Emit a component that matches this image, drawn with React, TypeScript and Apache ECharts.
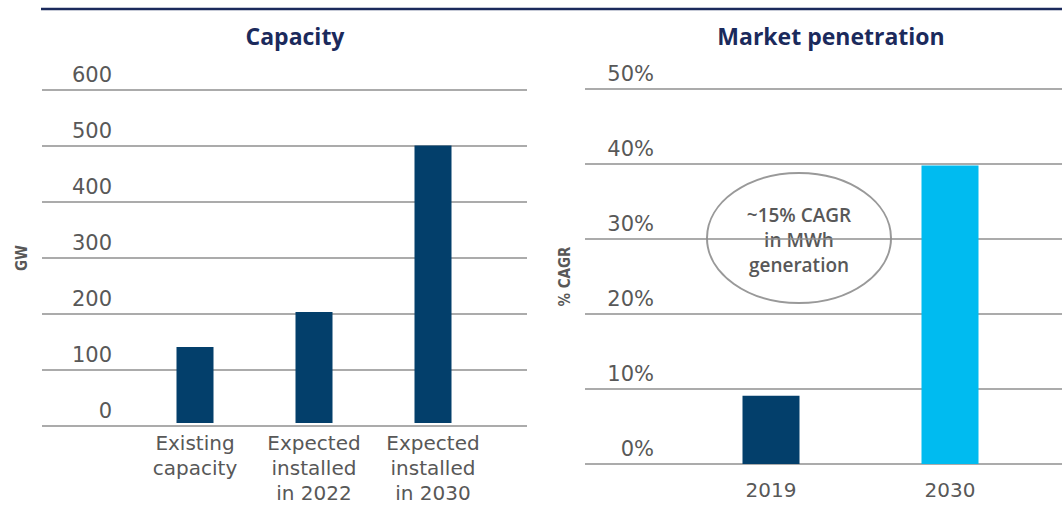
import React, { useEffect, useRef } from "react";
import * as echarts from "echarts";

const capacityCategories = ["Existing\ncapacity", "Expected\ninstalled\nin 2022", "Expected\ninstalled\nin 2030"];
const capacityValues = [137, 200, 500];
const penetrationCategories = ["2019", "2030"];
const penetrationValues = [9.1, 39.8];
const penetrationColors = ["#033f6b", "#00bbf0"];

const NAVY = "#033f6b";
const TITLE = "#1b2a5c";
const GRAY = "#585858";
const GRID_LINE = "#8f8f8f";
const FONT = "'Open Sans', 'DejaVu Sans', sans-serif";
const LABEL_FONT = "'DejaVu Sans', 'Open Sans', sans-serif";
const NARROW = "'DejaVu Sans Condensed', 'Liberation Sans Narrow', 'Roboto Condensed', sans-serif";

export default function App() {
  const ref = useRef<HTMLDivElement>(null);
  useEffect(() => {
    if (!ref.current) return;
    const chart = echarts.init(ref.current, null, { renderer: "svg" });
    const yLabel = (margin: number, fmt: (v: number) => string) => ({
      inside: true,
      margin,
      align: "right",
      verticalAlign: "bottom",
      padding: [0, 0, 5, 0],
      color: GRAY,
      fontSize: 21,
      fontFamily: LABEL_FONT,
      formatter: fmt,
    });
    const axisName = { color: GRAY, fontSize: 15, fontWeight: "bold", fontFamily: NARROW };
    chart.setOption({
      animation: false,
      title: [
        { text: "Capacity", left: 290, top: 19, textAlign: "center", textStyle: { fontSize: 23, fontWeight: "bold", color: TITLE, fontFamily: FONT } },
        { text: "Market penetration", left: 826, top: 19, textAlign: "center", textStyle: { fontSize: 23, fontWeight: "bold", color: TITLE, fontFamily: FONT } },
      ],
      grid: [
        { left: 42, width: 485, top: 90, height: 336 },
        { left: 135.5, width: 357, top: 90, height: 336 },
        { left: 585, right: 0, top: 89, height: 375 },
        { left: 681.5, width: 358, top: 89, height: 375 },
      ],
      xAxis: [
        { gridIndex: 0, type: "category", data: [""], show: false },
        {
          gridIndex: 1,
          type: "category",
          data: capacityCategories,
          axisLine: { show: false },
          axisTick: { show: false },
          axisLabel: { interval: 0, hideOverlap: false, color: GRAY, fontSize: 20, fontFamily: LABEL_FONT, lineHeight: 25, margin: 7 },
        },
        { gridIndex: 2, type: "category", data: [""], show: false },
        {
          gridIndex: 3,
          type: "category",
          data: penetrationCategories,
          axisLine: { show: false },
          axisTick: { show: false },
          axisLabel: { interval: 0, color: GRAY, fontSize: 20, fontFamily: LABEL_FONT, margin: 16 },
        },
      ],
      yAxis: [
        {
          gridIndex: 0,
          type: "value",
          min: 0,
          max: 600,
          interval: 100,
          name: "GW",
          nameLocation: "middle",
          nameRotate: 90,
          nameGap: 13,
          nameTextStyle: axisName,
          axisLine: { show: false },
          axisTick: { show: false },
          axisLabel: yLabel(70, (v: number) => String(v)),
          splitLine: { lineStyle: { color: GRID_LINE, width: 1.5 } },
        },
        { gridIndex: 1, type: "value", min: 0, max: 600, interval: 100, show: false, splitLine: { show: false } },
        {
          gridIndex: 2,
          type: "value",
          min: 0,
          max: 50,
          interval: 10,
          name: "% CAGR",
          nameLocation: "middle",
          nameRotate: 90,
          nameGap: 13,
          nameTextStyle: axisName,
          axisLine: { show: false },
          axisTick: { show: false },
          axisLabel: yLabel(69, (v: number) => v + "%"),
          splitLine: { lineStyle: { color: GRID_LINE, width: 1.5 } },
        },
        { gridIndex: 3, type: "value", min: 0, max: 50, interval: 10, show: false, splitLine: { show: false } },
      ],
      series: [
        {
          type: "bar",
          xAxisIndex: 1,
          yAxisIndex: 1,
          data: capacityValues,
          barWidth: 37,
          itemStyle: { color: NAVY },
        },
        {
          type: "bar",
          xAxisIndex: 3,
          yAxisIndex: 3,
          data: penetrationValues.map((v, i) => ({ value: v, itemStyle: { color: penetrationColors[i] } })),
          barWidth: 57,
        },
      ],
      graphic: [
        { type: "line", shape: { x1: 41, y1: 9, x2: 1062, y2: 9 }, style: { stroke: TITLE, lineWidth: 2.5 } },
        {
          type: "ellipse",
          shape: { cx: 799, cy: 238, rx: 92, ry: 65 },
          style: { fill: "none", stroke: "#999999", lineWidth: 2 },
        },
        {
          type: "text",
          x: 799,
          y: 240,
          style: {
            text: "~15% CAGR\nin MWh\ngeneration",
            align: "center",
            verticalAlign: "middle",
            fill: GRAY,
            font: "600 19px 'Open Sans', sans-serif",
            lineHeight: 25,
          },
        },
      ],
    });
    return () => chart.dispose();
  }, []);
  return <div ref={ref} style={{ position: "fixed", left: 0, top: 0, width: 1062, height: 505, background: "#fff" }} />;
}
